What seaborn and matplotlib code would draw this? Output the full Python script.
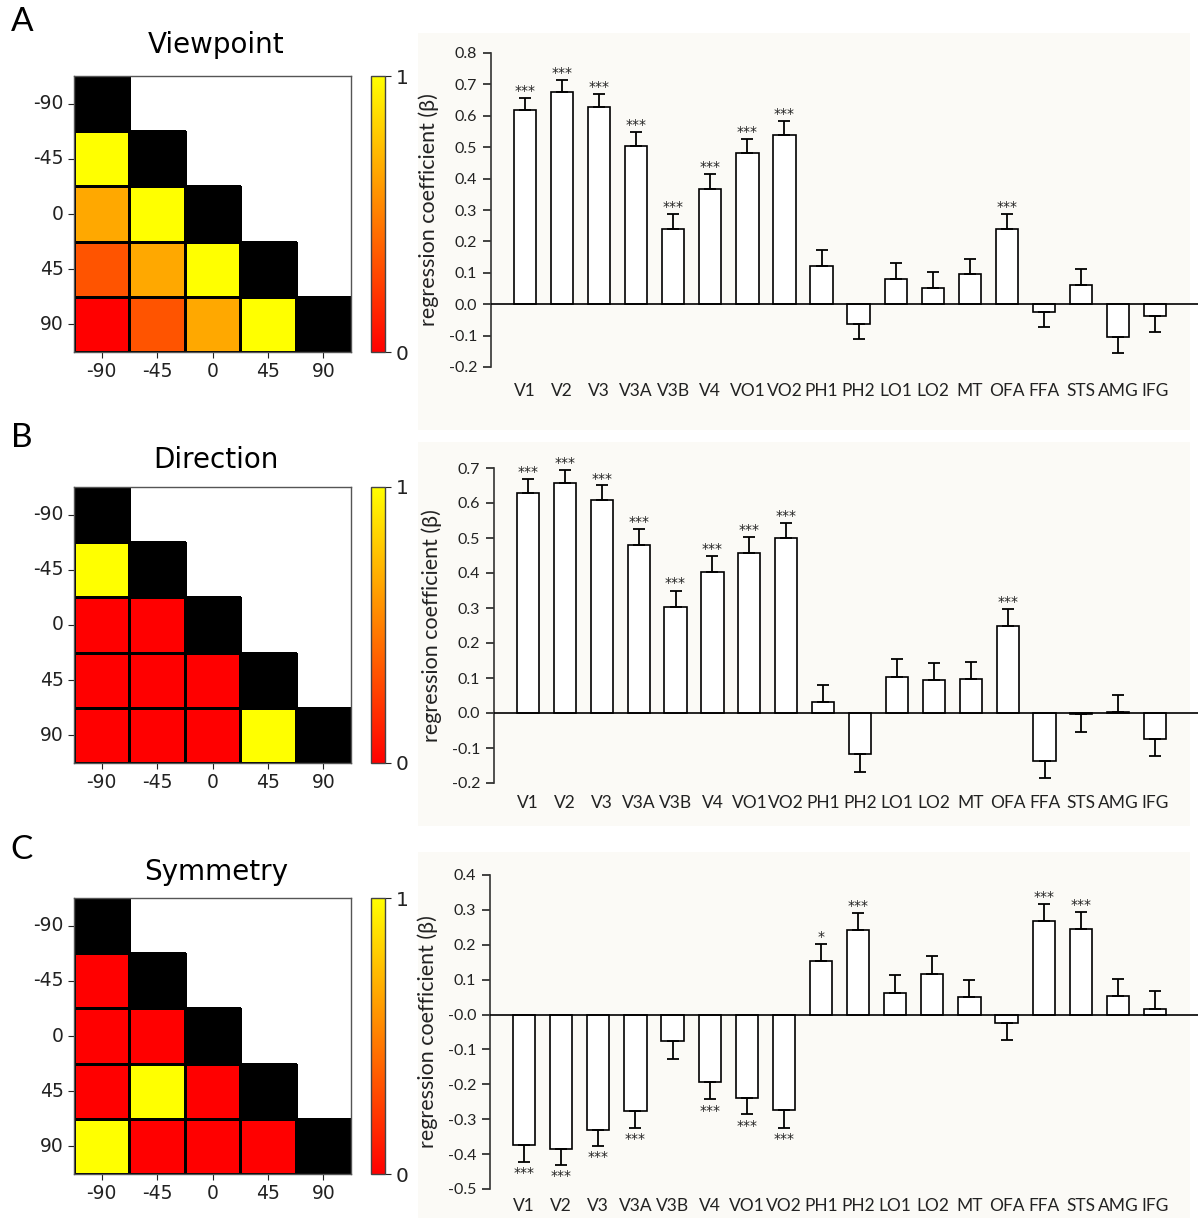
import numpy as np
import pandas as pd
import matplotlib
matplotlib.use("Agg")
import matplotlib.pyplot as plt
from matplotlib.colors import ListedColormap
from matplotlib.patches import Rectangle
import seaborn as sns

# ---- data ----
angles = [-90, -45, 0, 45, 90]
nan = np.nan

viewpoint_rsm = [
    [nan, nan, nan, nan, nan],
    [1.00, nan, nan, nan, nan],
    [0.66, 1.00, nan, nan, nan],
    [0.33, 0.66, 1.00, nan, nan],
    [0.00, 0.33, 0.66, 1.00, nan],
]
direction_rsm = [
    [nan, nan, nan, nan, nan],
    [1.0, nan, nan, nan, nan],
    [0.0, 0.0, nan, nan, nan],
    [0.0, 0.0, 0.0, nan, nan],
    [0.0, 0.0, 0.0, 1.0, nan],
]
symmetry_rsm = [
    [nan, nan, nan, nan, nan],
    [0.0, nan, nan, nan, nan],
    [0.0, 0.0, nan, nan, nan],
    [0.0, 1.0, 0.0, nan, nan],
    [1.0, 0.0, 0.0, 0.0, nan],
]

regions = ["V1", "V2", "V3", "V3A", "V3B", "V4", "VO1", "VO2", "PH1",
           "PH2", "LO1", "LO2", "MT", "OFA", "FFA", "STS", "AMG", "IFG"]

viewpoint_beta = [0.617, 0.676, 0.629, 0.505, 0.239, 0.368, 0.480, 0.539, 0.122,
                  -0.062, 0.080, 0.051, 0.096, 0.238, -0.026, 0.062, -0.105, -0.037]
viewpoint_err = [0.040, 0.037, 0.041, 0.044, 0.049, 0.046, 0.045, 0.043, 0.050,
                 0.050, 0.051, 0.051, 0.049, 0.049, 0.047, 0.050, 0.049, 0.050]
viewpoint_sig = ["***"] * 8 + ["", "", "", "", "", "***", "", "", "", ""]

direction_beta = [0.629, 0.657, 0.610, 0.481, 0.304, 0.404, 0.457, 0.500, 0.032,
                  -0.117, 0.103, 0.093, 0.096, 0.249, -0.137, -0.004, 0.002, -0.074]
direction_err = [0.039, 0.038, 0.040, 0.045, 0.046, 0.045, 0.045, 0.044, 0.049,
                 0.052, 0.051, 0.050, 0.050, 0.048, 0.049, 0.051, 0.049, 0.050]
direction_sig = ["***"] * 8 + ["", "", "", "", "", "***", "", "", "", ""]

symmetry_beta = [-0.375, -0.386, -0.330, -0.277, -0.076, -0.193, -0.238, -0.274, 0.154,
                 0.241, 0.063, 0.117, 0.049, -0.025, 0.267, 0.246, 0.053, 0.017]
symmetry_err = [0.047, 0.046, 0.047, 0.049, 0.050, 0.050, 0.048, 0.050, 0.049,
                0.050, 0.050, 0.050, 0.049, 0.049, 0.049, 0.049, 0.048, 0.050]
symmetry_sig = ["***", "***", "***", "***", "", "***", "***", "***", "*",
                "***", "", "", "", "", "***", "***", "", ""]

W, H = 1200, 1218
fig = plt.figure(figsize=(W / 100, H / 100), dpi=100)
fig.patch.set_facecolor("white")

LATIN = ["Lato", "DejaVu Sans"]
TXT = "#222222"


def px(x0, y0, x1, y1):
    return [x0 / W, 1 - y1 / H, (x1 - x0) / W, (y1 - y0) / H]


def edges_only_where(mesh, mask):
    # no grid lines on the empty (masked) cells
    hidden = mask.to_numpy().ravel()
    ec = np.zeros((hidden.size, 4))
    ec[~hidden, 3] = 1.0
    mesh.set_edgecolor(ec)


def draw_rsm(ax, cax, rsm):
    df = pd.DataFrame(rsm, index=angles, columns=angles)
    sns.heatmap(df, mask=df.isna(), cmap="autumn", vmin=0, vmax=1,
                linewidths=0.8, linecolor="black", ax=ax, cbar_ax=cax,
                cbar_kws={"ticks": [0, 1]})
    edges_only_where(ax.collections[0], df.isna())
    cbar = ax.collections[0].colorbar
    diag = pd.DataFrame(np.eye(len(angles)), index=angles, columns=angles)
    sns.heatmap(diag, mask=diag == 0, cmap=ListedColormap(["black"]),
                cbar=False, linewidths=0.8, linecolor="black", ax=ax)
    edges_only_where(ax.collections[1], diag == 0)
    for s in ax.spines.values():
        s.set_visible(True)
        s.set_color("#555555")
        s.set_linewidth(1)
    ax.tick_params(labelsize=13.5, length=4, colors=TXT)
    plt.setp(ax.get_yticklabels(), rotation=0)
    plt.setp(ax.get_xticklabels(), rotation=0)
    cax.tick_params(labelsize=14.5, length=4, colors=TXT)
    cbar.outline.set_linewidth(1)
    cbar.outline.set_edgecolor("#444444")


def draw_bars(ax, beta, err, sig, ylim, yticks, xpad):
    sns.barplot(x=regions, y=beta, color="white", edgecolor="black",
                linewidth=1.2, width=0.6, saturation=1, errorbar=None, ax=ax)
    b = np.array(beta)
    e = np.array(err)
    lower = np.where(b < 0, e, 0)
    upper = np.where(b >= 0, e, 0)
    ax.errorbar(np.arange(len(regions)), b, yerr=[lower, upper], fmt="none",
                ecolor="black", elinewidth=1.3, capsize=4, capthick=1.3, zorder=3)
    for i, s in enumerate(sig):
        if not s:
            continue
        if b[i] >= 0:
            ax.annotate(s, (i, b[i] + e[i]), xytext=(0, 0), textcoords="offset points",
                        ha="center", va="bottom", fontsize=10, color=TXT)
        else:
            ax.annotate(s, (i, b[i] - e[i]), xytext=(0, -3), textcoords="offset points",
                        ha="center", va="top", fontsize=10, color=TXT)
    ax.axhline(0, color="black", linewidth=1.2, zorder=4)
    ax.set_xlim(-0.92, 18.16)
    ax.set_ylim(*ylim)
    ax.set_yticks(yticks)
    ax.set_yticklabels([f"{t:.1f}" for t in yticks], family=LATIN)
    ax.set_xticks(range(len(regions)))
    ax.set_xticklabels(regions, family=LATIN)
    ax.set_facecolor("none")
    for side in ["top", "right", "bottom"]:
        ax.spines[side].set_visible(False)
    ax.spines["left"].set_linewidth(1.2)
    ax.spines["left"].set_color("#333333")
    ax.tick_params(axis="x", length=0, pad=xpad, labelsize=12.5, colors=TXT)
    ax.tick_params(axis="y", length=6, width=1.2, direction="out", pad=4,
                   labelsize=11.5, colors=TXT)
    ax.set_ylabel("regression coefficient (\u03b2)", fontsize=15.5, labelpad=7,
                  color=TXT, family=LATIN)


# light panel backgrounds behind the bar charts
for y0, y1 in [(33, 430), (442, 826), (852, 1218)]:
    fig.add_artist(Rectangle((418 / W, 1 - y1 / H), (1190 - 418) / W, (y1 - y0) / H,
                             transform=fig.transFigure, facecolor="#fbfaf6",
                             edgecolor="none", zorder=0))

panels = [
    ("A", "Viewpoint", viewpoint_rsm, viewpoint_beta, viewpoint_err, viewpoint_sig,
     22, 45, (76, 352), (491, 53, 367), (-0.2, 0.8), np.arange(-0.2, 0.81, 0.1), 11.5),
    ("B", "Direction", direction_rsm, direction_beta, direction_err, direction_sig,
     438, 460, (487, 763), (494, 468, 783), (-0.2, 0.7), np.arange(-0.2, 0.71, 0.1), 9),
    ("C", "Symmetry", symmetry_rsm, symmetry_beta, symmetry_err, symmetry_sig,
     850, 872, (898, 1174), (490, 875, 1189), (-0.5, 0.4), np.arange(-0.5, 0.41, 0.1), 6.5),
]

for (letter, title, rsm, beta, err, sig, ly, ty, (hy0, hy1), (bx0, by0, by1),
     ylim, yticks, xpad) in panels:
    hax = fig.add_axes(px(74, hy0, 351, hy1))
    cax = fig.add_axes(px(371, hy0, 385, hy1))
    draw_rsm(hax, cax, rsm)
    fig.text(216 / W, 1 - ty / H, title, ha="center", va="center", fontsize=20,
             color="black")
    fig.text(22 / W, 1 - ly / H, letter, ha="center", va="center", fontsize=24,
             color="black", family=LATIN)
    bax = fig.add_axes(px(bx0, by0, 1198, by1))
    draw_bars(bax, beta, err, sig, ylim, np.round(yticks, 1), xpad)

fig.savefig("out.png", dpi=100)
